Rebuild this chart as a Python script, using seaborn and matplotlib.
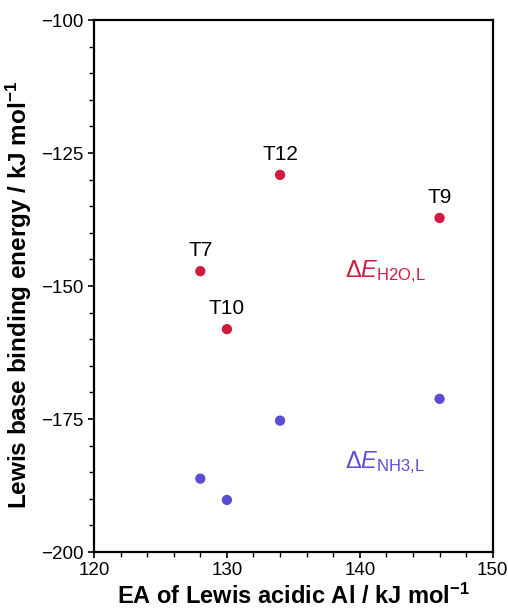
import matplotlib
matplotlib.use("Agg")
import matplotlib.pyplot as plt
import seaborn as sns
import pandas as pd
from matplotlib.ticker import MultipleLocator

# Data
labels = ["T7", "T10", "T12", "T9"]
ea = [128, 130, 134, 146]
e_h2o = [-147.2, -158.1, -129.1, -137.2]
e_nh3 = [-186.2, -190.2, -175.3, -171.2]

red = "#D11A40"
blue = "#5C4ED3"

sns.set_theme(style="ticks")
plt.rcParams["font.family"] = ["Liberation Sans", "DejaVu Sans"]
plt.rcParams["mathtext.fontset"] = "custom"
plt.rcParams["mathtext.rm"] = "Liberation Sans"
plt.rcParams["mathtext.it"] = "Liberation Sans:italic"
plt.rcParams["mathtext.bf"] = "Liberation Sans:bold"
plt.rcParams["text.color"] = "black"
plt.rcParams["axes.labelcolor"] = "black"

df = pd.DataFrame({"EA": ea, "H2O": e_h2o, "NH3": e_nh3, "label": labels})

fig = plt.figure(figsize=(5.08, 6.08), dpi=100)
ax = fig.add_axes([0.185, 0.092, 0.785, 0.875])

sns.scatterplot(data=df, x="EA", y="H2O", color=red, s=55, edgecolor="none", ax=ax)
sns.scatterplot(data=df, x="EA", y="NH3", color=blue, s=55, edgecolor="none", ax=ax)

for xv, yv, lab in zip(ea, e_h2o, labels):
    ax.annotate(lab, (xv, yv), xytext=(0, 8), textcoords="offset points",
                ha="center", va="bottom", fontsize=15, color="black")

ax.text(141.9, -147.2, r"$\Delta\mathit{E}_{\mathrm{H2O{,}L}}$", color=red,
        fontsize=17, ha="center", va="center")
ax.text(141.9, -183.2, r"$\Delta\mathit{E}_{\mathrm{NH3{,}L}}$", color=blue,
        fontsize=17, ha="center", va="center")

ax.set_xlim(120, 150)
ax.set_ylim(-200, -100)
ax.xaxis.set_major_locator(MultipleLocator(10))
ax.xaxis.set_minor_locator(MultipleLocator(2))
ax.yaxis.set_major_locator(MultipleLocator(25))
ax.yaxis.set_minor_locator(MultipleLocator(5))
ax.tick_params(which="major", direction="out", length=4, width=1.2, labelsize=13.5,
               colors="black", labelcolor="black")
ax.tick_params(which="minor", direction="out", length=3.5, width=1.0, colors="black")
for sp in ax.spines.values():
    sp.set_linewidth(1.6)
    sp.set_color("black")
    sp.set_visible(True)

ax.set_xlabel("EA of Lewis acidic Al / kJ mol$^{\\mathbf{-1}}$", fontsize=17,
              fontweight="bold", labelpad=3, color="black")
ax.set_ylabel("Lewis base binding energy / kJ mol$^{\\mathbf{-1}}$", fontsize=17.5,
              fontweight="bold", labelpad=5, color="black")
ax.yaxis.label.set_y(0.483)

fig.savefig("out.png", dpi=100)
